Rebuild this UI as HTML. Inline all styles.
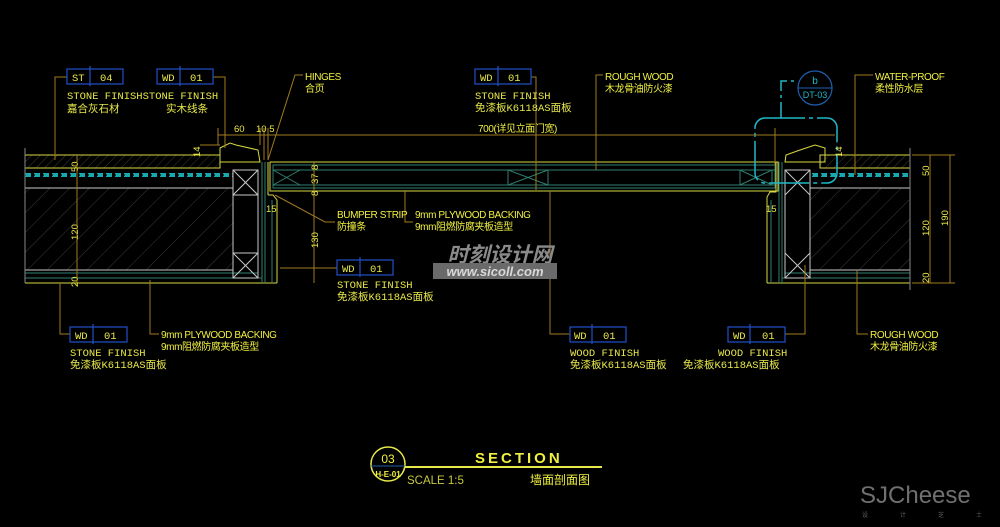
<!DOCTYPE html>
<html><head><meta charset="utf-8"><style>
html,body{margin:0;padding:0;background:#000;}
svg{display:block}
text{font-family:"Liberation Sans","Noto Sans CJK SC",sans-serif;}
.t{fill:#e8e84a;font-size:10.5px;font-family:"Liberation Mono","Noto Sans CJK SC",monospace;}
.n{fill:#f0f040;font-size:10px;font-family:"Liberation Sans","Noto Sans CJK SC",sans-serif;letter-spacing:-0.4px;}
.d{fill:#e8e84a;font-size:9.5px;font-family:"Liberation Sans",sans-serif;}
.ld{stroke:#a07a20;stroke-width:1;fill:none}
.tag{stroke:#2050c8;stroke-width:1.2;fill:none}
.y{stroke:#d8d840;stroke-width:1;fill:none}
.g{stroke:#2f7f70;stroke-width:1;fill:none}
.w{stroke:#c8c8c8;stroke-width:1;fill:none}
.c{stroke:#20b8c8;fill:none}
</style></head><body>
<svg width="1000" height="527" viewBox="0 0 1000 527" xmlns="http://www.w3.org/2000/svg">
<defs>
<pattern id="h" width="14" height="14" patternUnits="userSpaceOnUse" patternTransform="rotate(45)">
<line x1="0" y1="0" x2="0" y2="14" stroke="#3a3a3a" stroke-width="1"/></pattern>
<pattern id="s" width="6" height="6" patternUnits="userSpaceOnUse" patternTransform="rotate(45)">
<line x1="0" y1="0" x2="0" y2="6" stroke="#4a4a30" stroke-width="0.8"/></pattern>
</defs>
<rect width="1000" height="527" fill="#000"/>

<!-- LEFT WALL -->
<rect x="25" y="155" width="195" height="13" fill="url(#s)"/>
<polyline class="y" points="25,155 220,155 220,168 25,168"/>
<line x1="25" y1="175" x2="233" y2="175" stroke="#18a8b0" stroke-width="4" stroke-dasharray="6,3"/>
<line x1="25" y1="175" x2="233" y2="175" stroke="#000" stroke-width="1.2" stroke-dasharray="1,8"/>
<rect x="25" y="188" width="208" height="82" fill="url(#h)"/>
<line class="w" x1="25" y1="188" x2="233" y2="188"/>
<line class="w" x1="25" y1="270" x2="233" y2="270"/>
<line class="g" x1="25" y1="273" x2="258" y2="273"/>
<line class="g" x1="25" y1="278" x2="262" y2="278"/>
<line class="y" x1="25" y1="283" x2="277" y2="283"/>
<line class="w" x1="25" y1="148" x2="25" y2="283" style="stroke:#888"/>
<polygon class="y" points="220,148 230,143 236,145 258,150 260,162 220,162"/>
<rect class="w" x="233" y="170" width="25" height="108"/>
<line class="w" x1="233" y1="170" x2="258" y2="195"/><line class="w" x1="258" y1="170" x2="233" y2="195"/>
<line class="w" x1="233" y1="253" x2="258" y2="278"/><line class="w" x1="258" y1="253" x2="233" y2="278"/>
<line class="w" x1="233" y1="195" x2="258" y2="195"/><line class="w" x1="233" y1="253" x2="258" y2="253"/>
<line class="g" x1="262" y1="162" x2="262" y2="283"/>
<line class="g" x1="265" y1="162" x2="265" y2="283"/>
<line class="y" x1="268" y1="162" x2="268" y2="195"/>
<polyline class="y" points="268,195 273,195 277,200 277,283"/>
<line class="g" x1="272" y1="200" x2="272" y2="283"/>

<!-- DOOR PANEL -->
<rect class="y" x="270" y="162" width="508" height="29"/>
<rect class="g" x="273" y="165" width="502" height="23"/>
<line class="g" x1="273" y1="170" x2="775" y2="170"/>
<line class="g" x1="273" y1="185" x2="775" y2="185"/>
<rect class="g" x="508" y="170" width="40" height="15"/>
<line class="g" x1="508" y1="170" x2="548" y2="185"/><line class="g" x1="548" y1="170" x2="508" y2="185"/>
<rect class="g" x="740" y="170" width="32" height="15"/>
<line class="g" x1="740" y1="170" x2="772" y2="185"/><line class="g" x1="772" y1="170" x2="740" y2="185"/>
<line class="g" x1="273" y1="170" x2="300" y2="185"/><line class="g" x1="300" y1="170" x2="273" y2="185"/>

<!-- RIGHT WALL -->
<rect x="820" y="155" width="90" height="13" fill="url(#s)"/>
<polyline class="y" points="910,155 820,155 820,168 910,168"/>
<line x1="812" y1="175" x2="910" y2="175" stroke="#18a8b0" stroke-width="4" stroke-dasharray="6,3"/>
<line x1="812" y1="175" x2="910" y2="175" stroke="#000" stroke-width="1.2" stroke-dasharray="1,8"/>
<rect x="810" y="188" width="100" height="82" fill="url(#h)"/>
<line class="w" x1="810" y1="188" x2="910" y2="188"/>
<line class="w" x1="810" y1="270" x2="910" y2="270"/>
<line class="g" x1="785" y1="273" x2="910" y2="273"/>
<line class="g" x1="782" y1="278" x2="910" y2="278"/>
<line class="y" x1="767" y1="283" x2="910" y2="283"/>
<line x1="910" y1="148" x2="910" y2="290" stroke="#888"/>
<polygon class="y" points="785,162 786,155 800,150 815,145 825,148 825,162"/>
<rect class="w" x="785" y="170" width="25" height="108"/>
<line class="w" x1="785" y1="170" x2="810" y2="195"/><line class="w" x1="810" y1="170" x2="785" y2="195"/>
<line class="w" x1="785" y1="253" x2="810" y2="278"/><line class="w" x1="810" y1="253" x2="785" y2="278"/>
<line class="g" x1="782" y1="162" x2="782" y2="283"/>
<line class="g" x1="779" y1="162" x2="779" y2="283"/>
<polyline class="y" points="776,162 776,192 770,192 767,197 767,283"/>
<line class="g" x1="771" y1="200" x2="771" y2="283"/>
<rect class="c" x="755" y="118" width="82" height="65" rx="10" stroke-width="1.5" stroke-dasharray="40,4,4,4"/>
<polyline class="c" points="781,118 781,81 798,81" stroke-width="1.5" stroke-dasharray="16,4,3,4"/>
<circle cx="815" cy="88" r="17" fill="none" stroke="#2060b0" stroke-width="1.2"/>
<line x1="798" y1="88" x2="832" y2="88" stroke="#2060b0"/>
<text x="815" y="84" text-anchor="middle" style="fill:#20b8c8;font-size:10px">b</text>
<text x="815" y="98" text-anchor="middle" style="fill:#20b8c8;font-size:9px">DT-03</text>

<!-- DIMENSIONS -->
<line class="ld" x1="218" y1="135" x2="835" y2="135"/>
<line class="ld" x1="218" y1="128" x2="218" y2="145"/>
<line class="ld" x1="260" y1="128" x2="260" y2="145"/>
<line class="ld" x1="264" y1="128" x2="264" y2="160"/>
<line class="ld" x1="268" y1="128" x2="268" y2="160"/>
<line class="ld" x1="775" y1="128" x2="775" y2="165"/>
<text class="d" x="234" y="132">60</text><text class="d" x="256" y="132">10 5</text>
<text class="n" x="478" y="132">700(详见立面门宽)</text>
<line class="ld" x1="200" y1="145" x2="220" y2="145"/>
<text class="d" transform="translate(200,157) rotate(-90)">14</text>
<text class="d" transform="translate(78,172) rotate(-90)">50</text>
<text class="d" transform="translate(78,240) rotate(-90)">120</text>
<text class="d" transform="translate(78,287) rotate(-90)">20</text>
<line class="ld" x1="77" y1="155" x2="77" y2="285"/>
<line class="ld" x1="314" y1="162" x2="314" y2="283"/>
<text class="d" transform="translate(318,170) rotate(-90)">8</text>
<text class="d" transform="translate(318,184) rotate(-90)">37</text>
<text class="d" transform="translate(318,196) rotate(-90)">8</text>
<text class="d" transform="translate(318,248) rotate(-90)">130</text>
<text class="d" x="266" y="212">15</text>
<text class="d" x="766" y="212">15</text>
<text class="d" transform="translate(842,157) rotate(-90)">14</text>
<line class="ld" x1="930" y1="155" x2="930" y2="283"/>
<line class="ld" x1="950" y1="155" x2="950" y2="283"/>
<line class="ld" x1="912" y1="155" x2="955" y2="155"/>
<line class="ld" x1="912" y1="283" x2="955" y2="283"/>
<text class="d" transform="translate(929,176) rotate(-90)">50</text>
<text class="d" transform="translate(929,236) rotate(-90)">120</text>
<text class="d" transform="translate(929,283) rotate(-90)">20</text>
<text class="d" transform="translate(948,226) rotate(-90)">190</text>

<!-- LEADERS -->
<polyline class="ld" points="67,77 55,77 55,160"/>
<polyline class="ld" points="213,77 225,77 225,148"/>
<polyline class="ld" points="303,75 295,75 268,160"/>
<polyline class="ld" points="531,77 536,77 536,190"/>
<polyline class="ld" points="603,75 596,75 596,170"/>
<polyline class="ld" points="873,75 855,75 855,175"/>
<polyline class="ld" points="335,222 325,222 275,195"/>
<polyline class="ld" points="413,222 405,222 405,190"/>
<polyline class="ld" points="337,268 280,268"/>
<polyline class="ld" points="70,334 60,334 60,283"/>
<polyline class="ld" points="159,334 150,334 150,280"/>
<polyline class="ld" points="570,334 550,334 550,191"/>
<polyline class="ld" points="785,334 805,334 805,265"/>
<polyline class="ld" points="868,334 857,334 857,270"/>

<!-- TAGS & LABELS -->
<g>
<rect class="tag" x="67" y="69" width="56" height="15"/><line class="tag" x1="90" y1="66" x2="90" y2="86"/>
<text class="t" x="72" y="81">ST</text><text class="t" x="100" y="81">04</text>
<rect class="tag" x="157" y="69" width="56" height="15"/><line class="tag" x1="180" y1="66" x2="180" y2="86"/>
<text class="t" x="162" y="81">WD</text><text class="t" x="190" y="81">01</text>
<text class="t" x="67" y="99">STONE FINISHSTONE FINISH</text>
<text class="t" x="67" y="112">嘉合灰石材</text><text class="t" x="166" y="112">实木线条</text>

<text class="n" x="305" y="80">HINGES</text><text class="n" x="305" y="92">合页</text>

<rect class="tag" x="475" y="69" width="56" height="15"/><line class="tag" x1="498" y1="66" x2="498" y2="86"/>
<text class="t" x="480" y="81">WD</text><text class="t" x="508" y="81">01</text>
<text class="t" x="475" y="99">STONE FINISH</text><text class="t" x="475" y="111">免漆板K6118AS面板</text>

<text class="n" x="605" y="80">ROUGH WOOD</text><text class="n" x="605" y="92">木龙骨油防火漆</text>
<text class="n" x="875" y="80">WATER-PROOF</text><text class="n" x="875" y="92">柔性防水层</text>

<text class="n" x="337" y="218">BUMPER STRIP</text><text class="n" x="337" y="230">防撞条</text>
<text class="n" x="415" y="218">9mm PLYWOOD BACKING</text><text class="n" x="415" y="230">9mm阻燃防腐夹板造型</text>

<rect class="tag" x="337" y="260" width="56" height="15"/><line class="tag" x1="360" y1="257" x2="360" y2="277"/>
<text class="t" x="342" y="272">WD</text><text class="t" x="370" y="272">01</text>
<text class="t" x="337" y="288">STONE FINISH</text><text class="t" x="337" y="300">免漆板K6118AS面板</text>

<rect class="tag" x="70" y="327" width="57" height="15"/><line class="tag" x1="93" y1="324" x2="93" y2="344"/>
<text class="t" x="75" y="339">WD</text><text class="t" x="104" y="339">01</text>
<text class="t" x="70" y="356">STONE FINISH</text><text class="t" x="70" y="368">免漆板K6118AS面板</text>
<text class="n" x="161" y="338">9mm PLYWOOD BACKING</text><text class="n" x="161" y="350">9mm阻燃防腐夹板造型</text>

<rect class="tag" x="570" y="327" width="56" height="15"/><line class="tag" x1="592" y1="324" x2="592" y2="344"/>
<text class="t" x="574" y="339">WD</text><text class="t" x="603" y="339">01</text>
<text class="t" x="570" y="356">WOOD FINISH</text><text class="t" x="570" y="368">免漆板K6118AS面板</text>

<rect class="tag" x="728" y="327" width="57" height="15"/><line class="tag" x1="750" y1="324" x2="750" y2="344"/>
<text class="t" x="733" y="339">WD</text><text class="t" x="762" y="339">01</text>
<text class="t" x="718" y="356">WOOD FINISH</text><text class="t" x="683" y="368">免漆板K6118AS面板</text>

<text class="n" x="870" y="338">ROUGH WOOD</text><text class="n" x="870" y="350">木龙骨油防火漆</text>
</g>

<!-- watermark -->
<text x="500" y="262" text-anchor="middle" style="fill:#8a8a8a;font-size:21px;font-weight:bold;font-style:italic;font-family:'Noto Sans CJK SC',sans-serif">时刻设计网</text>
<rect x="433" y="263" width="124" height="16" fill="#6a6a6a"/>
<text x="495" y="276" text-anchor="middle" style="fill:#d8d8d8;font-size:13px;font-weight:bold;font-style:italic">www.sicoll.com</text>

<!-- title -->
<circle cx="388" cy="464" r="17" fill="none" stroke="#e8e84a" stroke-width="1.5"/>
<line x1="371" y1="466" x2="405" y2="466" stroke="#2060b0"/>
<text x="388" y="463" text-anchor="middle" style="fill:#f0f040;font-size:12px">03</text>
<text x="388" y="477" text-anchor="middle" style="fill:#f0f040;font-size:8px;font-weight:bold">H-E-01</text>
<line x1="405" y1="467" x2="602" y2="467" stroke="#e8e84a" stroke-width="2"/>
<text x="475" y="463" style="fill:#f0f040;font-size:15px;font-weight:bold;letter-spacing:3px">SECTION</text>
<text x="407" y="484" style="fill:#c8c840;font-size:11.5px">SCALE 1:5</text>
<text x="530" y="484" style="fill:#f0f040;font-size:12px;font-family:'Noto Sans CJK SC',sans-serif">墙面剖面图</text>

<text x="860" y="503" style="fill:#707070;font-size:24px">SJCheese</text>
<text x="862" y="517" style="fill:#606060;font-size:6px;letter-spacing:32px;font-family:'Noto Sans CJK SC',sans-serif">设计芝士</text>
</svg>
</body></html>
